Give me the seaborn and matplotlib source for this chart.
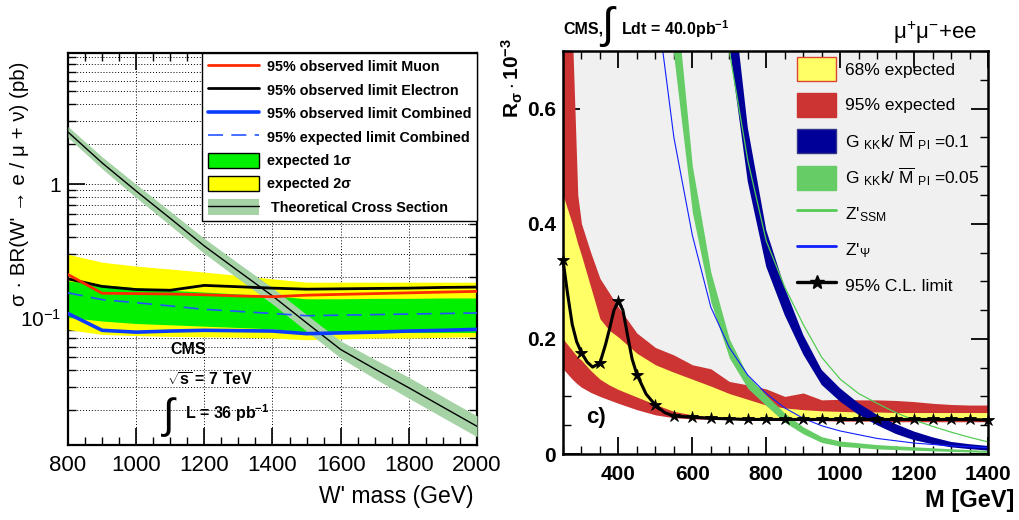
import matplotlib
matplotlib.use("Agg")
import numpy as np
import pandas as pd
import matplotlib.pyplot as plt
import seaborn as sns
from matplotlib.patches import Patch
from matplotlib.lines import Line2D
from matplotlib.ticker import NullFormatter

# ---------------- Left panel data: W' -> e/mu + nu ----------------
w_mass = [800, 900, 1000, 1100, 1200, 1300, 1400, 1500, 1600, 1700, 1800, 1900, 2000]
obs_muon = [0.21, 0.152, 0.151, 0.150, 0.148, 0.145, 0.143, 0.147, 0.149, 0.151, 0.153, 0.155, 0.157]
obs_electron = [0.195, 0.171, 0.162, 0.160, 0.174, 0.170, 0.166, 0.163, 0.164, 0.165, 0.166, 0.168, 0.169]
obs_combined = [0.107, 0.080, 0.0775, 0.079, 0.080, 0.0795, 0.079, 0.0755, 0.0765, 0.0775, 0.079, 0.080, 0.0813]
exp_combined = [0.153, 0.136, 0.129, 0.122, 0.115, 0.111, 0.107, 0.103, 0.104, 0.105, 0.106, 0.107, 0.108]
exp2_hi = [0.298, 0.260, 0.243, 0.231, 0.219, 0.207, 0.195, 0.184, 0.184, 0.184, 0.184, 0.184, 0.184]
exp2_lo = [0.081, 0.0745, 0.073, 0.072, 0.0715, 0.071, 0.070, 0.068, 0.069, 0.070, 0.070, 0.071, 0.0716]
exp1_hi = [0.188, 0.176, 0.167, 0.160, 0.155, 0.150, 0.146, 0.138, 0.138, 0.139, 0.139, 0.140, 0.140]
exp1_lo = [0.100, 0.094, 0.090, 0.088, 0.086, 0.084, 0.082, 0.0775, 0.0775, 0.0775, 0.077, 0.077, 0.077]
theory_mass = [800, 900, 1000, 1100, 1200, 1300, 1400, 1500, 1600, 1700, 1800, 1900, 2000]
theory_xs = [2.47, 1.45, 0.89, 0.555, 0.344, 0.223, 0.145, 0.091, 0.0574, 0.041, 0.0296, 0.0212, 0.0152]
theory_hi = [2.72, 1.61, 1.00, 0.627, 0.392, 0.255, 0.167, 0.105, 0.0666, 0.0484, 0.0355, 0.0254, 0.0182]
theory_lo = [2.25, 1.31, 0.795, 0.491, 0.302, 0.195, 0.126, 0.0788, 0.0495, 0.0347, 0.0247, 0.0177, 0.0127]
left_labels = ["95% observed limit Muon", "95% observed limit Electron",
               "95% observed limit Combined", "95% expected limit Combined",
               "expected 1\u03c3", "expected 2\u03c3", " Theoretical Cross Section"]

# ---------------- Right panel data: R_sigma limits ----------------
band_mass = [250, 275, 290, 300, 325, 350, 375, 400, 450, 500, 550, 600, 650, 700, 750, 800,
             850, 900, 950, 1000, 1050, 1100, 1150, 1200, 1250, 1300, 1350, 1400]
red_hi = [0.95, 0.74, 0.45, 0.40, 0.35, 0.305, 0.28, 0.255, 0.21, 0.185, 0.172, 0.155, 0.148, 0.126,
          0.12, 0.113, 0.10, 0.106, 0.094, 0.095, 0.094, 0.094, 0.093, 0.091, 0.088, 0.086, 0.085, 0.085]
yellow_hi = [0.45, 0.40, 0.365, 0.345, 0.29, 0.235, 0.215, 0.203, 0.175, 0.155, 0.142, 0.130, 0.118,
             0.105, 0.095, 0.085, 0.080, 0.077, 0.075, 0.074, 0.073, 0.073, 0.072, 0.072, 0.072, 0.072,
             0.072, 0.072]
yellow_lo = [0.20, 0.18, 0.168, 0.163, 0.145, 0.13, 0.12, 0.112, 0.099, 0.086, 0.074, 0.068, 0.065,
             0.063, 0.062, 0.062, 0.062, 0.062, 0.062, 0.061, 0.061, 0.061, 0.061, 0.061, 0.061, 0.061,
             0.061, 0.061]
red_lo = [0.148, 0.13, 0.121, 0.116, 0.107, 0.10, 0.094, 0.088, 0.077, 0.068, 0.063, 0.061, 0.060,
          0.060, 0.059, 0.059, 0.058, 0.058, 0.058, 0.057, 0.057, 0.057, 0.056, 0.056, 0.056, 0.056,
          0.056, 0.056]

obs_mass = [250, 262, 275, 287, 300, 315, 330, 350, 365, 375, 388, 400, 412, 425, 437, 450, 475,
            500, 525, 550, 600, 650, 700, 750, 800, 850, 900, 950, 1000, 1050, 1100, 1150, 1200,
            1250, 1300, 1350, 1400]
obs_limit = [0.337, 0.28, 0.225, 0.195, 0.176, 0.16, 0.151, 0.158, 0.19, 0.215, 0.25, 0.265, 0.25,
             0.205, 0.165, 0.138, 0.104, 0.085, 0.072, 0.066, 0.064, 0.062, 0.061, 0.060, 0.060,
             0.060, 0.060, 0.060, 0.060, 0.060, 0.060, 0.060, 0.060, 0.060, 0.060, 0.060, 0.059]

gkk05_mass = [540, 550, 600, 650, 700, 750, 800, 850, 900, 950, 1000, 1100, 1200, 1300, 1400]
gkk05_lo = [0.746, 0.69, 0.42, 0.264, 0.167, 0.114, 0.084, 0.055, 0.035, 0.020, 0.0135, 0.0088,
            0.0065, 0.0045, 0.0028]
gkk05_hi = [0.89, 0.83, 0.50, 0.316, 0.20, 0.136, 0.102, 0.071, 0.047, 0.030, 0.0225, 0.0163,
            0.0125, 0.0091, 0.0062]

gkk01_mass = [680, 700, 750, 800, 850, 900, 950, 1000, 1050, 1100, 1150, 1200, 1250, 1300, 1350, 1400]
gkk01_lo = [0.80, 0.71, 0.473, 0.325, 0.241, 0.173, 0.12, 0.091, 0.068, 0.050, 0.035, 0.024, 0.017,
            0.0116, 0.0085, 0.006]
gkk01_hi = [0.95, 0.85, 0.567, 0.389, 0.289, 0.207, 0.146, 0.114, 0.088, 0.068, 0.052, 0.039, 0.029,
            0.021, 0.017, 0.014]

zpsi_mass = [500, 550, 600, 650, 700, 750, 800, 850, 900, 950, 1000, 1100, 1200, 1300, 1400]
zpsi_xs = [0.80, 0.55, 0.38, 0.255, 0.185, 0.137, 0.105, 0.08, 0.062, 0.049, 0.040, 0.027, 0.019,
           0.0142, 0.0111]

zssm_mass = [680, 700, 750, 800, 850, 900, 950, 1000, 1050, 1100, 1150, 1200, 1250, 1300, 1350, 1400]
zssm_xs = [0.82, 0.70, 0.51, 0.37, 0.29, 0.225, 0.168, 0.13, 0.105, 0.088, 0.072, 0.059, 0.048,
           0.038, 0.029, 0.021]

right_labels = ["68% expected", "95% expected",
                r"G $_{\mathrm{KK}}$k/ $\overline{\mathrm{M}}$ $_{\mathrm{Pl}}$ =0.1",
                r"G $_{\mathrm{KK}}$k/ $\overline{\mathrm{M}}$ $_{\mathrm{Pl}}$ =0.05",
                r"Z'$_{\mathrm{SSM}}$", r"Z'$_{\Psi}$", "95% C.L. limit"]

# ---------------- Style ----------------
sns.set_theme(style="ticks")
plt.rcParams.update({
    "font.family": ["Liberation Sans", "DejaVu Sans"],
    "mathtext.fontset": "custom",
    "mathtext.rm": "Liberation Sans",
    "mathtext.it": "Liberation Sans:italic",
    "mathtext.bf": "Liberation Sans:bold",
    "mathtext.sf": "Liberation Sans",
    "axes.linewidth": 1.6,
    "axes.edgecolor": "black",
    "xtick.color": "black",
    "ytick.color": "black",
    "text.color": "black",
})

W, H = 1020, 520
fig = plt.figure(figsize=(W / 100, H / 100), dpi=100)


def ftext(x, y, s, **kw):
    fig.text(x / W, 1 - y / H, s, **kw)


# ======================= LEFT PANEL =======================
axL = fig.add_axes([68 / W, 1 - 445 / H, 409 / W, 392 / H])
axL.set_facecolor("white")
axL.fill_between(w_mass, exp2_lo, exp2_hi, color="#ffff00", lw=0, zorder=1)
axL.fill_between(w_mass, exp1_lo, exp1_hi, color="#00f000", lw=0, zorder=2)
axL.fill_between(theory_mass, theory_lo, theory_hi, color="#a6d3a6", lw=0, zorder=3)
sns.lineplot(x=theory_mass, y=theory_xs, color="black", lw=1.0, ax=axL, zorder=4,
             estimator=None, sort=False, legend=False)
sns.lineplot(x=w_mass, y=exp_combined, color="#2255ff", lw=1.2, ax=axL, zorder=5,
             estimator=None, sort=False, legend=False)
axL.lines[-1].set_dashes([9, 5])
sns.lineplot(x=w_mass, y=obs_electron, color="black", lw=2.0, ax=axL, zorder=6,
             estimator=None, sort=False, legend=False)
sns.lineplot(x=w_mass, y=obs_muon, color="#ff2a00", lw=2.0, ax=axL, zorder=6,
             estimator=None, sort=False, legend=False)
sns.lineplot(x=w_mass, y=obs_combined, color="#0a3cff", lw=2.6, ax=axL, zorder=7,
             estimator=None, sort=False, legend=False)

axL.set_yscale("log")
axL.set_xlim(800, 2000)
axL.set_ylim(0.011, 9.7)
axL.set_xticks(list(range(800, 2001, 200)), labels=[str(v) for v in range(800, 2001, 200)], fontsize=16)
axL.set_xticks(list(range(800, 2001, 50)), minor=True)
axL.set_yticks([0.1, 1], labels=[r"$10^{-1}$", "1"], fontsize=15)
minor_y = [m * d for d in (0.01, 0.1, 1) for m in range(2, 10)]
axL.set_yticks(minor_y, minor=True)
axL.yaxis.set_minor_formatter(NullFormatter())
axL.tick_params(which="major", direction="in", length=12, width=1.2, top=True, right=True, pad=7)
axL.tick_params(axis="y", which="major", pad=5)
axL.tick_params(which="minor", direction="in", length=6, width=1.0, top=True, right=True)
axL.set_axisbelow(True)
axL.grid(True, which="major", axis="x", ls=(0, (1, 2)), color="black", lw=0.7, zorder=0)
axL.grid(True, which="both", axis="y", ls=(0, (1, 2)), color="black", lw=0.7, zorder=0)
axL.set_xlabel("")
axL.set_ylabel("")

hL = [Line2D([], [], color="#ff2a00", lw=2),
      Line2D([], [], color="black", lw=2),
      Line2D([], [], color="#0a3cff", lw=2.6),
      Line2D([], [], color="#2255ff", lw=1.2, dashes=[9, 5]),
      Patch(facecolor="#00f000", edgecolor="black", lw=1),
      Patch(facecolor="#ffff00", edgecolor="black", lw=1),
      (Patch(facecolor="#a6d3a6", edgecolor="none"), Line2D([], [], color="black", lw=1))]
legL = axL.legend(hL, left_labels, loc="upper right", bbox_to_anchor=(1, 1), borderaxespad=0,
                  frameon=True, fancybox=False, framealpha=1, edgecolor="black",
                  prop=dict(family=["Liberation Sans", "DejaVu Sans"], weight="bold", size=10.4),
                  handlelength=3.5, handleheight=1.25, labelspacing=0.55, borderpad=0.4,
                  handletextpad=0.55)
legL.get_frame().set_linewidth(1.0)
legL.set_zorder(10)

ftext(170, 350, "CMS", fontsize=11.5, fontweight="bold", ha="left", va="center")
ftext(167, 380, r"$\sqrt{\mathbf{s}}$ = 7 TeV", fontsize=11.5, fontweight="bold", ha="left", va="center")
ftext(163, 417, "\u222b", fontsize=30, ha="left", va="center")
ftext(185, 413, r"L = 36 pb$^{\mathbf{-1}}$", fontsize=11.5, fontweight="bold", ha="left", va="center")
ftext(474, 497, "W' mass (GeV)", fontsize=16.5, ha="right", va="center")
ftext(20, 184, "\u03c3 \u00b7 BR(W' \u2192 e / \u03bc + \u03bd) (pb)", fontsize=14.8, rotation=90,
      ha="center", va="center")

# ======================= RIGHT PANEL =======================
axR = fig.add_axes([563 / W, 1 - 454 / H, 425 / W, 403 / H])
axR.set_facecolor("white")
axR.fill_between(band_mass, red_lo, [1.0] * len(band_mass), color="#f0f0f0", lw=0, zorder=0.5)
axR.fill_between(band_mass, red_lo, red_hi, color="#cc3333", lw=0, zorder=1)
axR.fill_between(band_mass, yellow_lo, yellow_hi, color="#ffff66", lw=0, zorder=2)
axR.fill_between(gkk05_mass, gkk05_lo, gkk05_hi, color="#66cc66", lw=0, zorder=3)
axR.fill_between(gkk01_mass, gkk01_lo, gkk01_hi, color="#000099", lw=0, zorder=4)
sns.lineplot(x=zpsi_mass, y=zpsi_xs, color="#1020ff", lw=0.8, ax=axR, zorder=5,
             estimator=None, sort=False, legend=False)
sns.lineplot(x=zssm_mass, y=zssm_xs, color="#55cc55", lw=0.9, ax=axR, zorder=5,
             estimator=None, sort=False, legend=False)
star_mask = [m % 50 == 0 for m in obs_mass]
sns.lineplot(x=obs_mass, y=obs_limit, color="black", lw=2.2, ax=axR, zorder=6,
             estimator=None, sort=False, legend=False)
lim_line = axR.lines[-1]
lim_line.set_marker("*")
lim_line.set_markersize(9)
lim_line.set_markerfacecolor("black")
lim_line.set_markeredgecolor("black")
lim_line.set_markeredgewidth(0.6)
lim_line.set_markevery(star_mask)
lim_line.set_clip_on(False)

axR.set_xlim(250, 1400)
axR.set_ylim(0, 0.7)
axR.set_xticks(list(range(400, 1401, 200)), labels=[str(v) for v in range(400, 1401, 200)],
               fontsize=15, fontweight="bold")
axR.set_xticks(list(range(250, 1401, 50)), minor=True)
axR.set_yticks([0, 0.2, 0.4, 0.6], labels=["0", "0.2", "0.4", "0.6"], fontsize=15, fontweight="bold")
axR.set_yticks([round(0.05 * i, 2) for i in range(15)], minor=True)
axR.tick_params(which="major", direction="in", length=12, width=1.3, top=True, right=True, pad=8)
axR.tick_params(axis="y", which="major", pad=5)
axR.tick_params(which="minor", direction="in", length=6, width=1.0, top=True, right=True)
axR.set_xlabel("")
axR.set_ylabel("")
for sp in axR.spines.values():
    sp.set_linewidth(1.8)
    sp.set_zorder(8)

hR = [Patch(facecolor="#ffff66", edgecolor="#dd4433", lw=1),
      Patch(facecolor="#cc3333", edgecolor="#cc3333", lw=1),
      Patch(facecolor="#000099", edgecolor="#333388", lw=1),
      Patch(facecolor="#66cc66", edgecolor="#66cc66", lw=1),
      Line2D([], [], color="#55cc55", lw=2),
      Line2D([], [], color="#1020ff", lw=2),
      Line2D([], [], color="black", lw=2.4, marker="*", markersize=10)]
legR = axR.legend(hR, right_labels, loc="upper left", bbox_to_anchor=((797 - 563) / 425, 0.985),
                  borderaxespad=0, frameon=False,
                  prop=dict(family=["Liberation Sans", "DejaVu Sans"], size=12.5),
                  handlelength=2.25, handleheight=1.75, labelspacing=0.68, borderpad=0,
                  handletextpad=0.5)
legR.set_zorder(10)

ftext(586, 418, "c)", fontsize=16, fontweight="bold", ha="left", va="center")
ftext(563, 29, "CMS,", fontsize=11.5, fontweight="bold", ha="left", va="center")
ftext(601, 26, "\u222b", fontsize=32, ha="left", va="center")
ftext(621, 29, r"Ldt = 40.0pb$^{\mathbf{-1}}$", fontsize=11.5, fontweight="bold", ha="left", va="center")
ftext(977, 33, "\u03bc$^{+}$\u03bc$^{-}$+ee", fontsize=16, ha="right", va="center")
ftext(1014, 500, "M [GeV]", fontsize=17, fontweight="bold", ha="right", va="center")
ftext(512, 78, r"$\mathbf{R_{\sigma}\cdot 10^{-3}}$", fontsize=15, rotation=90, ha="center", va="center")

fig.savefig("out.png", dpi=100)
